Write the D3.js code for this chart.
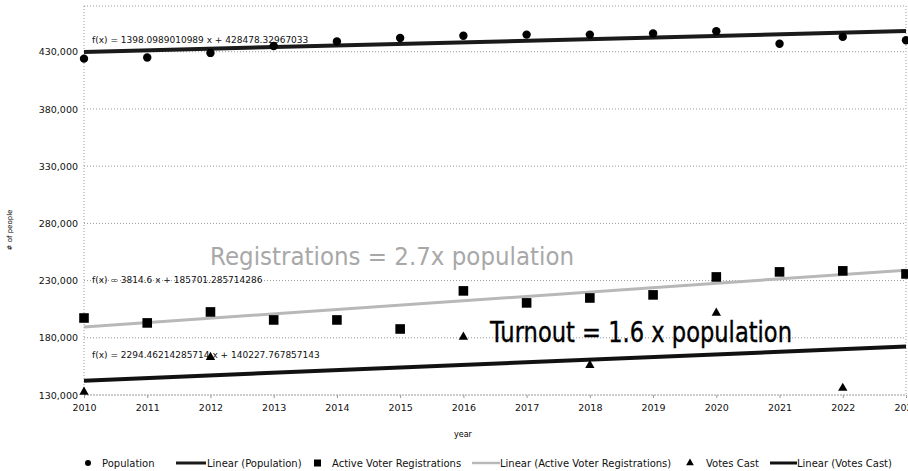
<!DOCTYPE html>
<html>
  <head>
    <meta charset="utf-8" />
    <style>
      body { margin: 0; background: #fff; }
      text { font-family: "DejaVu Sans", sans-serif; }
    </style>
  </head>
  <body>

<svg id="graph"></svg>

<script src="https://d3js.org/d3.v7.min.js"></script>
<script>
  const WIDTH = 908;
  const HEIGHT = 471;

  // data
  const years = [2010, 2011, 2012, 2013, 2014, 2015, 2016, 2017, 2018, 2019, 2020, 2021, 2022, 2023];
  const population = [424000, 425000, 429000, 435000, 439000, 442000, 444000, 445000, 445000, 446000, 448000, 437000, 443000, 440000];
  const registrations = [197300, 193000, 202600, 195600, 195600, 187700, 221000, 210500, 214800, 217500, 233200, 237600, 238500, 235800];
  const voteYears = [2010, 2012, 2016, 2018, 2020, 2022];
  const votesCast = [132600, 163000, 180700, 156000, 201700, 136000];
  const yTicks = [130000, 180000, 230000, 280000, 330000, 380000, 430000];

  // trend lines, f(x) with x = 1 for 2010
  const trendNames = ['Population', 'Active Voter Registrations', 'Votes Cast'];
  const trendSlopes = [1398.0989010989, 3814.6, 2294.46214285714];
  const trendIntercepts = [428478.32967033, 185701.285714286, 140227.767857143];
  const trendLabels = [
    'f(x) = 1398.0989010989 x + 428478.32967033',
    'f(x) = 3814.6 x + 185701.285714286',
    'f(x) = 2294.46214285714 x + 140227.767857143'
  ];

  const svg = d3.select('#graph').attr('width', WIDTH).attr('height', HEIGHT);

  const x = d3.scaleLinear().domain([2010, 2023]).range([84, 906]);
  const y = d3.scaleLinear().domain([130000, 470000]).range([395, 6]);

  // plot frame + grid (dotted)
  const grid = svg.append('g').attr('stroke', '#999').attr('stroke-dasharray', '1,2').attr('fill', 'none');
  yTicks.forEach(t => {
    grid.append('line').attr('x1', x(2010)).attr('x2', x(2023)).attr('y1', y(t)).attr('y2', y(t));
  });
  grid.append('rect').attr('x', x(2010)).attr('y', y(470000))
    .attr('width', x(2023) - x(2010)).attr('height', y(130000) - y(470000));

  // axes
  const yAxis = d3.axisLeft(y).tickValues(yTicks).tickSize(0).tickPadding(6)
    .tickFormat(d3.format(',')) ;
  svg.append('g').attr('transform', `translate(${x(2010)},0)`).call(yAxis)
    .call(g => g.select('.domain').remove())
    .selectAll('text').attr('font-size', 9.5).attr('fill', '#111').attr('font-family', 'DejaVu Sans');

  const xAxis = d3.axisBottom(x).tickValues(years).tickSize(3).tickPadding(6).tickFormat(d => d);
  svg.append('g').attr('transform', `translate(0,${y(130000)})`).call(xAxis)
    .call(g => g.select('.domain').remove())
    .call(g => g.selectAll('line').attr('stroke', '#999'))
    .selectAll('text').attr('font-size', 9.5).attr('fill', '#111').attr('font-family', 'DejaVu Sans');

  svg.append('text').attr('x', 463).attr('y', 437).attr('text-anchor', 'middle')
    .attr('font-size', 8).text('year');
  svg.append('text').attr('transform', 'translate(12,230) rotate(-90)').attr('text-anchor', 'middle')
    .attr('font-size', 7).text('# of people');

  // trend lines
  const trendStyles = [
    { stroke: '#1a1a1a', width: 4 },
    { stroke: '#b8b8b8', width: 3 },
    { stroke: '#111', width: 4 }
  ];
  trendSlopes.forEach((m, i) => {
    const f = yr => m * (yr - 2009) + trendIntercepts[i];
    svg.append('line')
      .attr('x1', x(2010)).attr('y1', y(f(2010)))
      .attr('x2', x(2023)).attr('y2', y(f(2023)))
      .attr('stroke', trendStyles[i].stroke).attr('stroke-width', trendStyles[i].width);
  });

  // equation labels
  const labelY = [43, 283, 358];
  trendLabels.forEach((t, i) => {
    svg.append('text').attr('x', 92).attr('y', labelY[i]).attr('font-size', 9)
      .attr('fill', '#111').text(t);
  });

  // points
  svg.append('g').selectAll('circle').data(years).join('circle')
    .attr('cx', d => x(d)).attr('cy', (d, i) => y(population[i])).attr('r', 4.2).attr('fill', '#000');

  svg.append('g').selectAll('rect').data(years).join('rect')
    .attr('x', d => x(d) - 4.8).attr('y', (d, i) => y(registrations[i]) - 4.8)
    .attr('width', 9.6).attr('height', 9.6).attr('fill', '#000');

  const tri = d3.symbol().type(d3.symbolTriangle).size(38);
  svg.append('g').selectAll('path').data(voteYears).join('path')
    .attr('d', tri)
    .attr('transform', (d, i) => `translate(${x(d)},${y(votesCast[i])})`).attr('fill', '#000');

  // annotations
  svg.append('text').attr('x', 210).attr('y', 265).attr('font-size', 25)
    .attr('font-family', 'Liberation Sans').attr('fill', '#a8a8a8')
    .attr('textLength', 364).attr('lengthAdjust', 'spacingAndGlyphs')
    .text('Registrations = 2.7x population');
  svg.append('text').attr('x', 490).attr('y', 342).attr('font-size', 29)
    .attr('font-family', 'Liberation Sans').attr('fill', '#000')
    .attr('stroke', '#000').attr('stroke-width', 0.4)
    .attr('textLength', 302).attr('lengthAdjust', 'spacingAndGlyphs')
    .text('Turnout = 1.6 x population');

  // legend
  const legY = 463;
  const leg = svg.append('g').attr('font-size', 10).attr('fill', '#111');
  leg.append('circle').attr('cx', 88).attr('cy', legY).attr('r', 3).attr('fill', '#000');
  leg.append('text').attr('x', 102).attr('y', legY + 3.5).text('Population');
  leg.append('line').attr('x1', 176).attr('x2', 206).attr('y1', legY).attr('y2', legY)
    .attr('stroke', trendStyles[0].stroke).attr('stroke-width', 3);
  leg.append('text').attr('x', 207).attr('y', legY + 3.5).text('Linear (Population)');
  leg.append('rect').attr('x', 314).attr('y', legY - 3.5).attr('width', 7).attr('height', 7).attr('fill', '#000');
  leg.append('text').attr('x', 332).attr('y', legY + 3.5).text('Active Voter Registrations');
  leg.append('line').attr('x1', 472).attr('x2', 500).attr('y1', legY).attr('y2', legY)
    .attr('stroke', trendStyles[1].stroke).attr('stroke-width', 2.5);
  leg.append('text').attr('x', 500).attr('y', legY + 3.5).text('Linear (Active Voter Registrations)');
  leg.append('path').attr('d', d3.symbol().type(d3.symbolTriangle).size(26))
    .attr('transform', `translate(690,${legY})`).attr('fill', '#000');
  leg.append('text').attr('x', 706).attr('y', legY + 3.5).text('Votes Cast');
  leg.append('line').attr('x1', 770).attr('x2', 797).attr('y1', legY).attr('y2', legY)
    .attr('stroke', trendStyles[2].stroke).attr('stroke-width', 3);
  leg.append('text').attr('x', 797).attr('y', legY + 3.5).text('Linear (Votes Cast)');
</script>
  </body>
</html>
